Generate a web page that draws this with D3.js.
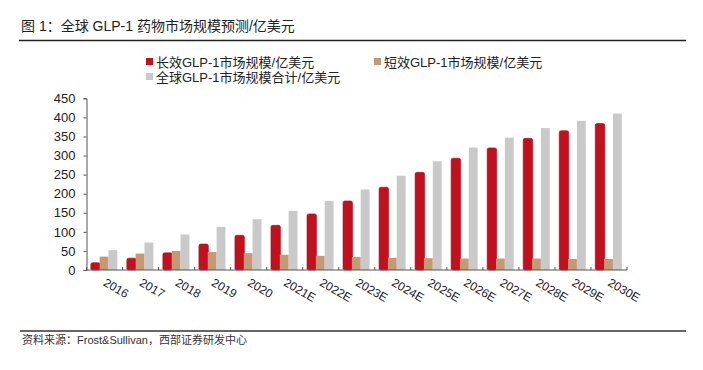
<!DOCTYPE html>
<html>
<head>
<meta charset="utf-8">
<script src="https://cdn.jsdelivr.net/npm/d3@7/dist/d3.min.js"></script>
<style>
  body { margin: 0; background: #fff; }
  svg text { font-family: "Liberation Sans", Arial, "Noto Sans CJK SC", sans-serif; }
</style>
</head>
<body>
<svg id="chart" width="703" height="370"></svg>
<script>
const years = ["2016", "2017", "2018", "2019", "2020", "2021E", "2022E", "2023E",
               "2024E", "2025E", "2026E", "2027E", "2028E", "2029E", "2030E"]
const longActing  = [19, 31, 45, 68, 91, 117, 147, 181, 217, 256, 293, 320, 345, 365, 384]
const shortActing = [35, 43, 50, 47, 44, 40, 37, 34, 32, 31, 30, 30, 30, 29, 29]
const globalTotal = [52, 72, 93, 113, 133, 155, 181, 211, 247, 285, 321, 347, 372, 391, 410]
const seriesNames = ["长效GLP-1市场规模/亿美元", "短效GLP-1市场规模/亿美元", "全球GLP-1市场规模合计/亿美元"]
const colors = ["#c2101f", "#c49a76", "#c9c9c9"]
const yTicks = [0, 50, 100, 150, 200, 250, 300, 350, 400, 450]

const svg = d3.select("#chart")

// title + rules
svg.append("text").attr("x", 21).attr("y", 31)
  .attr("font-size", 14).attr("fill", "#222")
  .text("图 1：全球 GLP-1 药物市场规模预测/亿美元")
svg.append("line").attr("x1", 19).attr("x2", 686).attr("y1", 40.5).attr("y2", 40.5)
  .attr("stroke", "#222").attr("stroke-width", 1.5)
svg.append("line").attr("x1", 20).attr("x2", 686).attr("y1", 331).attr("y2", 331)
  .attr("stroke", "#333").attr("stroke-width", 1.5)
svg.append("text").attr("x", 22).attr("y", 344)
  .attr("font-size", 11).attr("fill", "#333")
  .text("资料来源：Frost&Sullivan，西部证券研发中心")

// legend
const legendPos = [[146, 58], [374, 58], [146, 73]]
seriesNames.forEach((name, i) => {
  const [lx, ly] = legendPos[i]
  svg.append("rect").attr("x", lx).attr("y", ly).attr("width", 7).attr("height", 7)
    .attr("fill", colors[i])
  svg.append("text").attr("x", lx + 10).attr("y", ly + 8.5)
    .attr("font-size", 13).attr("fill", "#222").text(name)
})

// scales
const x0 = d3.scaleBand().domain(years).range([86.5, 627])
const x1 = d3.scaleBand().domain([0, 1, 2]).range([4.3, x0.bandwidth() - 5.2])
const y = d3.scaleLinear().domain([0, 450]).range([270, 98.3])

// y axis
const yAxis = svg.append("g").attr("transform", "translate(86.5,0)")
  .call(d3.axisLeft(y).tickValues(yTicks).tickSize(3).tickPadding(8))
yAxis.select(".domain").attr("stroke", "#555")
yAxis.selectAll(".tick line").attr("stroke", "#555")
yAxis.selectAll("text").attr("font-size", 13).attr("fill", "#222")
  .style("font-family", "'Liberation Sans', Arial, sans-serif")

// bars
const rows = years.map((yr, i) => ({ yr, vals: [longActing[i], shortActing[i], globalTotal[i]] }))
const groups = svg.append("g").selectAll("g")
  .data(rows).enter().append("g")
  .attr("transform", d => `translate(${x0(d.yr)},0)`)
groups.selectAll("rect")
  .data(d => d.vals.map((v, k) => ({ v, k })))
  .enter().append("rect")
  .attr("x", d => x1(d.k))
  .attr("y", d => y(d.v))
  .attr("width", d => x1.bandwidth() + (d.k === 0 ? 0.6 : 0))
  .attr("height", d => y(0) - y(d.v))
  .attr("rx", d => d.k === 0 ? 1.8 : 0)
  .attr("fill", d => colors[d.k])
  .attr("stroke", d => d.k === 0 ? "#a80c18" : "none")
  .attr("stroke-width", 0.6)

// x axis
const xg = svg.append("g")
xg.append("line").attr("x1", x0.range()[0]).attr("x2", x0.range()[1])
  .attr("y1", 270).attr("y2", 270).attr("stroke", "#555")
xg.selectAll("line.tk").data(years.map(d => x0(d)).concat([x0.range()[1]]))
  .enter().append("line").attr("class", "tk")
  .attr("x1", d => d).attr("x2", d => d).attr("y1", 267).attr("y2", 270)
  .attr("stroke", "#555")
xg.selectAll("text").data(years).enter().append("text")
  .attr("transform", d => `translate(${x0(d) + x0.bandwidth() / 2 - 2},285) rotate(30)`)
  .attr("font-size", 12).attr("fill", "#222")
  .text(d => d)
</script>
</body>
</html>
